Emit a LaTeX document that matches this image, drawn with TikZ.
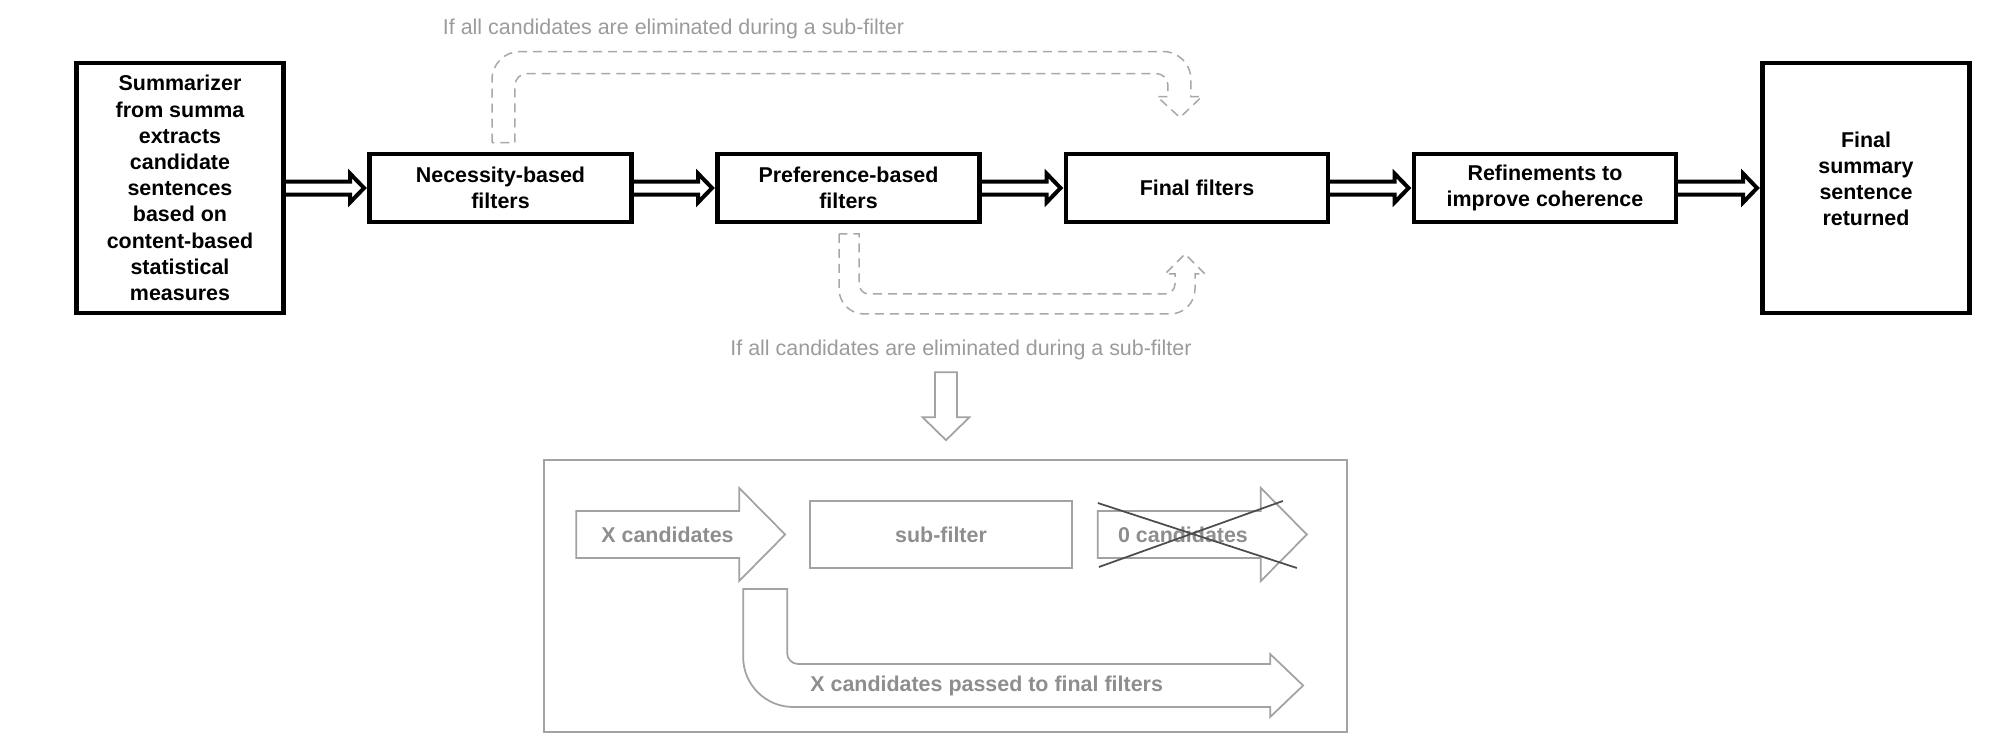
\documentclass[tikz,border=0pt]{standalone}
\usepackage{fontspec}
\setmainfont{Liberation Sans}
\usetikzlibrary{calc}
\definecolor{dashgray}{HTML}{A8A8A8}
\definecolor{notegray}{HTML}{9B9B9B}
\definecolor{panelgray}{HTML}{A2A2A2}
\definecolor{paneltext}{HTML}{8E8E8E}
\definecolor{crossgray}{HTML}{4D4D4D}
\newcommand{\stagefont}{\fontsize{12.2pt}{14.9pt}\selectfont\bfseries}
\newcommand{\notefont}{\fontsize{12.2pt}{14.9pt}\selectfont}
\tikzset{
  stage/.style={draw=black, line width=0.09cm, fill=white, align=center, font=\stagefont,
    inner sep=0pt, minimum width=5.25cm, minimum height=1.37cm},
  tallstage/.style={stage, minimum width=4.15cm, minimum height=5.01cm},
  fat/.style={draw=black, line width=0.08cm},
  dashflow/.style={draw=dashgray, line width=0.03cm, dash pattern=on 0.18cm off 0.12cm},
  note/.style={text=notegray, font=\notefont, inner sep=0pt},
  panelbox/.style={draw=panelgray, line width=0.035cm, minimum width=16.06cm, minimum height=5.44cm, inner sep=0pt},
  subbox/.style={draw=panelgray, line width=0.035cm, minimum width=5.24cm, minimum height=1.34cm,
    inner sep=0pt, text=paneltext, font=\stagefont},
  hollow/.style={draw=panelgray, line width=0.035cm},
  plab/.style={text=paneltext, font=\stagefont, inner sep=0pt},
  cross/.style={draw=crossgray, line width=0.035cm}
}

\begin{document}
\begin{tikzpicture}[x=0.02cm, y=0.02cm]
  \useasboundingbox (0,0) rectangle (2006,-734);

  % main pipeline
  \node[tallstage] (sum) at (180,-188) {Summarizer\\from summa\\extracts\\candidate\\sentences\\based on\\content-based\\statistical\\measures};
  \node[stage] (nec)  at (500.5,-188) {Necessity-based\\filters};
  \node[stage] (pref) at (848.5,-188) {Preference-based\\filters};
  \node[stage] (fin)  at (1197,-188)  {Final filters};
  \node[stage] (ref)  at (1545,-188)  {Refinements to\\improve coherence};
  \node[tallstage] (out) at (1866,-188) {};
  \node[font=\stagefont, align=center, inner sep=0pt] (outtext) at ($(out.center)+(0,9)$) {Final\\summary\\sentence\\returned};

  % hollow arrows between the stages
  \foreach \src/\dst in {sum/nec, nec/pref, pref/fin, fin/ref, ref/out}
    \draw[fat] ($(\src.east)+(-1,6.5)$) -- ($(\dst.west)+(-17,6.5)$) -- ($(\dst.west)+(-17,14.5)$)
      -- ($(\dst.west)+(-3,0)$) -- ($(\dst.west)+(-17,-14.5)$) -- ($(\dst.west)+(-17,-6.5)$)
      -- ($(\src.east)+(-1,-6.5)$);

  % skip routes to the final filters
  \node[note, anchor=base] (skiptop) at (673.5,-34) {If all candidates are eliminated during a sub-filter};
  \coordinate (upA) at ($(nec.north)+(-8.5,9)$);
  \draw[dashflow] (upA) -- ++(0,63) arc[start angle=180, end angle=90, radius=0.56cm]
    -- ++(643,0) arc[start angle=90, end angle=0, radius=0.56cm]
    -- ++(0,-17) -- ++(11,0) -- ++(-22,-21) -- ++(-23,21) -- ++(11,0)
    -- ++(0,11) arc[start angle=0, end angle=90, radius=0.24cm]
    -- ++(-629,0) arc[start angle=90, end angle=180, radius=0.24cm]
    -- ++(0,-57) -- cycle;

  \coordinate (dnA) at ($(pref.south)+(-9.5,-9.5)$);
  \draw[dashflow] (dnA) -- ++(0,-55) arc[start angle=180, end angle=270, radius=0.5cm]
    -- ++(306,0) arc[start angle=270, end angle=360, radius=0.5cm]
    -- ++(0,15) -- ++(10,0) -- ++(-20,20) -- ++(-20,-20) -- ++(10,0)
    -- ++(0,-10) arc[start angle=0, end angle=-90, radius=0.2cm]
    -- ++(-296,0) arc[start angle=270, end angle=180, radius=0.2cm]
    -- ++(0,50) -- cycle;
  \node[note, anchor=base] (skipbot) at (961,-355) {If all candidates are eliminated during a sub-filter};

  % sub-filter detail
  \node[panelbox] (panel) at (945.5,-596) {};
  \draw[hollow] ($(panel.north)+(0.5,19)$) -- ++(23.5,23) -- ++(-12.5,0) -- ++(0,45)
    -- ++(-22,0) -- ++(0,-45) -- ++(-12.5,0) -- cycle;

  \node[subbox] (sub) at (941,-534.5) {sub-filter};
  \draw[hollow] ($(sub.west)+(-24,0)$) -- ++(-46,46.5) -- ++(0,-23) -- ++(-163,0)
    -- ++(0,-47) -- ++(163,0) -- ++(0,-23) -- cycle;
  \node[plab] (xin) at (667.5,-534.5) {X candidates};

  \draw[hollow] ($(sub.east)+(25,23.5)$) -- ++(163,0) -- ++(0,23) -- ++(46,-46.5)
    -- ++(-46,-46.5) -- ++(0,23) -- ++(-163,0) -- cycle;
  \node[plab] (zero) at (1183,-535) {0 candidates};
  \draw[cross] ($(sub.east)+(25,31.5)$) -- ($(sub.east)+(224,-33.5)$);
  \draw[cross] ($(sub.east)+(26,-32.5)$) -- ($(sub.east)+(210,33.5)$);

  % candidates that pass on
  \coordinate (bendA) at ($(sub.west)+(-66,-54.5)$);
  \draw[hollow] (bendA) -- ++(0,-68) arc[start angle=180, end angle=270, radius=1cm]
    -- ++(477,0) -- ++(0,-10) -- ++(33,31.5) -- ++(-33,31.5) -- ++(0,-10)
    -- ++(-472,0) arc[start angle=270, end angle=180, radius=0.22cm]
    -- ++(0,64) -- cycle;
  \node[plab, anchor=base west] (pass) at (810,-691) {X candidates passed to final filters};
\end{tikzpicture}
\end{document}
